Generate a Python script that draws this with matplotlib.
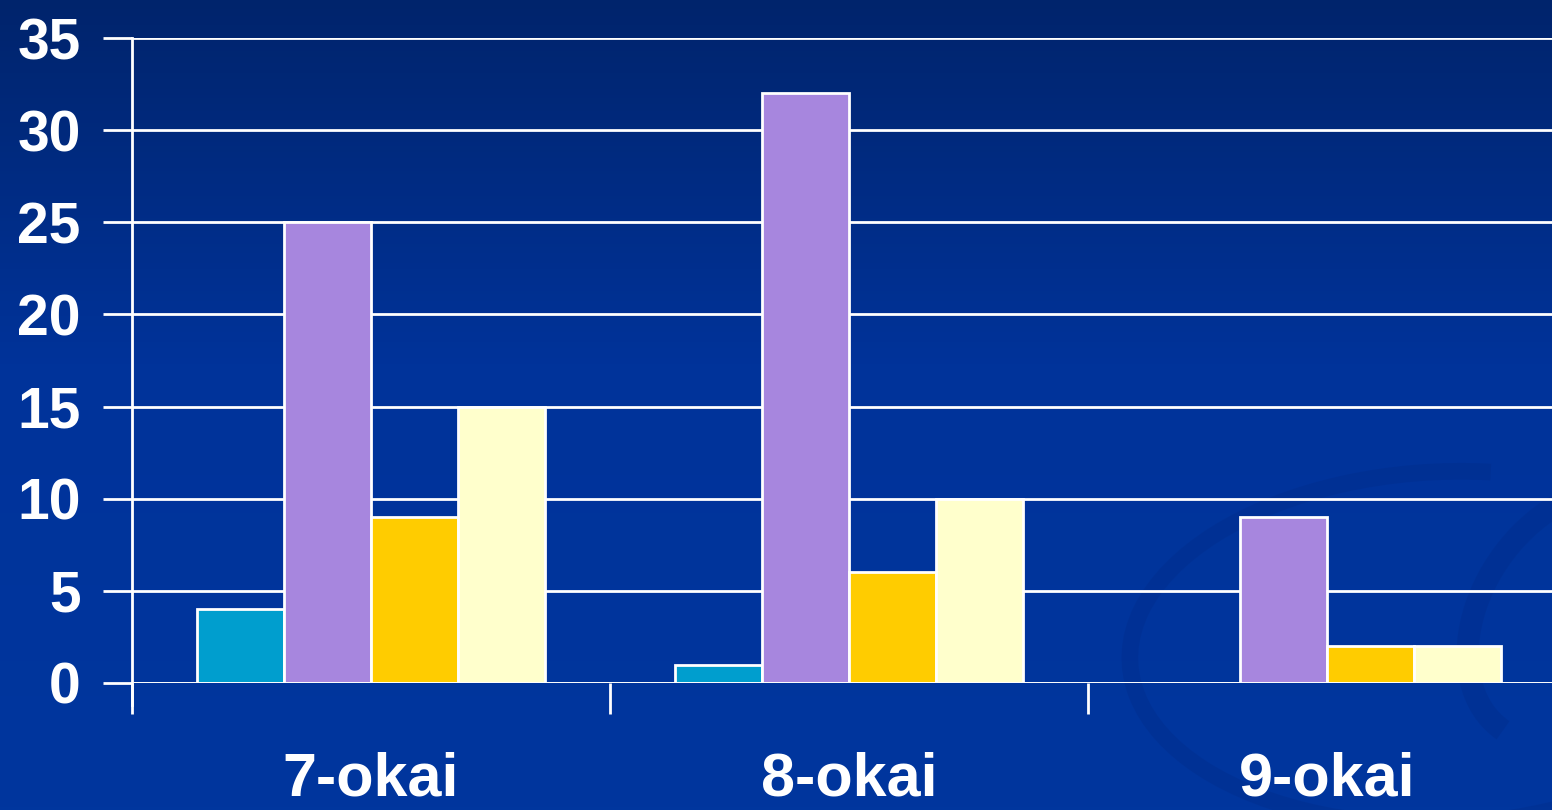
import numpy as np
import matplotlib.pyplot as plt
from matplotlib.colors import LinearSegmentedColormap
from matplotlib.patches import Arc

categories = ['7-okai', '8-okai', '9-okai']
serie_1 = [4, 1, 0]
serie_2 = [25, 32, 9]
serie_3 = [9, 6, 2]
serie_4 = [15, 10, 2]
series = [serie_1, serie_2, serie_3, serie_4]
colores = ['#009ECE', '#A786DE', '#FFCC00', '#FFFFCC']

plt.rcParams['font.family'] = ['Liberation Sans', 'DejaVu Sans']

fig = plt.figure(figsize=(15.52, 8.10), dpi=100)

# Fondo degradado
bg = fig.add_axes([0, 0, 1, 1], zorder=0)
grad = np.linspace(0, 1, 256).reshape(-1, 1)
cmap = LinearSegmentedColormap.from_list('fondo', [(0, '#00246c'), (0.45, '#00339a'), (1, '#00369e')])
bg.imshow(grad, aspect='auto', cmap=cmap, extent=[0, 1, 0, 1], origin='upper')
# remolino decorativo
bg.add_patch(Arc((0.93, 0.20), 0.40, 0.44, angle=-18, theta1=100, theta2=320,
                 color='#002a85', lw=12, alpha=0.3))
bg.add_patch(Arc((1.02, 0.24), 0.14, 0.32, angle=-10, theta1=100, theta2=260,
                 color='#002a85', lw=16, alpha=0.3))
bg.set_xlim(0, 1)
bg.set_ylim(0, 1)
bg.axis('off')

ax = fig.add_axes([132 / 1552, (810 - 683) / 810, 1434 / 1552, (683 - 38) / 810], zorder=1)
ax.patch.set_alpha(0)

x = np.arange(len(categories)) + 0.5
ancho = 0.182
for i, (vals, col) in enumerate(zip(series, colores)):
    ax.bar(x + (i - 1.5) * ancho, vals, ancho, color=col, edgecolor='white',
           linewidth=2, zorder=3)

ax.set_xlim(0, 3)
ax.set_ylim(0, 35)
ax.set_yticks(range(0, 36, 5))
ax.set_xticks([0, 1, 2, 3], minor=False)
ax.set_xticklabels([])
ax.set_xticks(x, minor=True)
ax.set_xticklabels(categories, minor=True)
ax.grid(True, axis='y', color='white', linewidth=2, zorder=1)

for s in ['top', 'right', 'bottom']:
    ax.spines[s].set_visible(False)
ax.spines['left'].set_color('white')
ax.spines['left'].set_linewidth(2)
ax.spines['left'].set_bounds(-1.2, 35)
ax.axhline(0, color='white', linewidth=2, zorder=4)

ax.tick_params(axis='y', colors='white', length=21, width=2, pad=16,
               labelsize=41)
ax.tick_params(axis='x', which='major', colors='white', length=22, width=2)
ax.tick_params(axis='x', which='minor', length=0, pad=49, labelcolor='white',
               labelsize=44)
for lab in ax.get_yticklabels() + ax.get_xticklabels(minor=True):
    lab.set_fontweight('bold')

plt.savefig('out.png', dpi=100)
